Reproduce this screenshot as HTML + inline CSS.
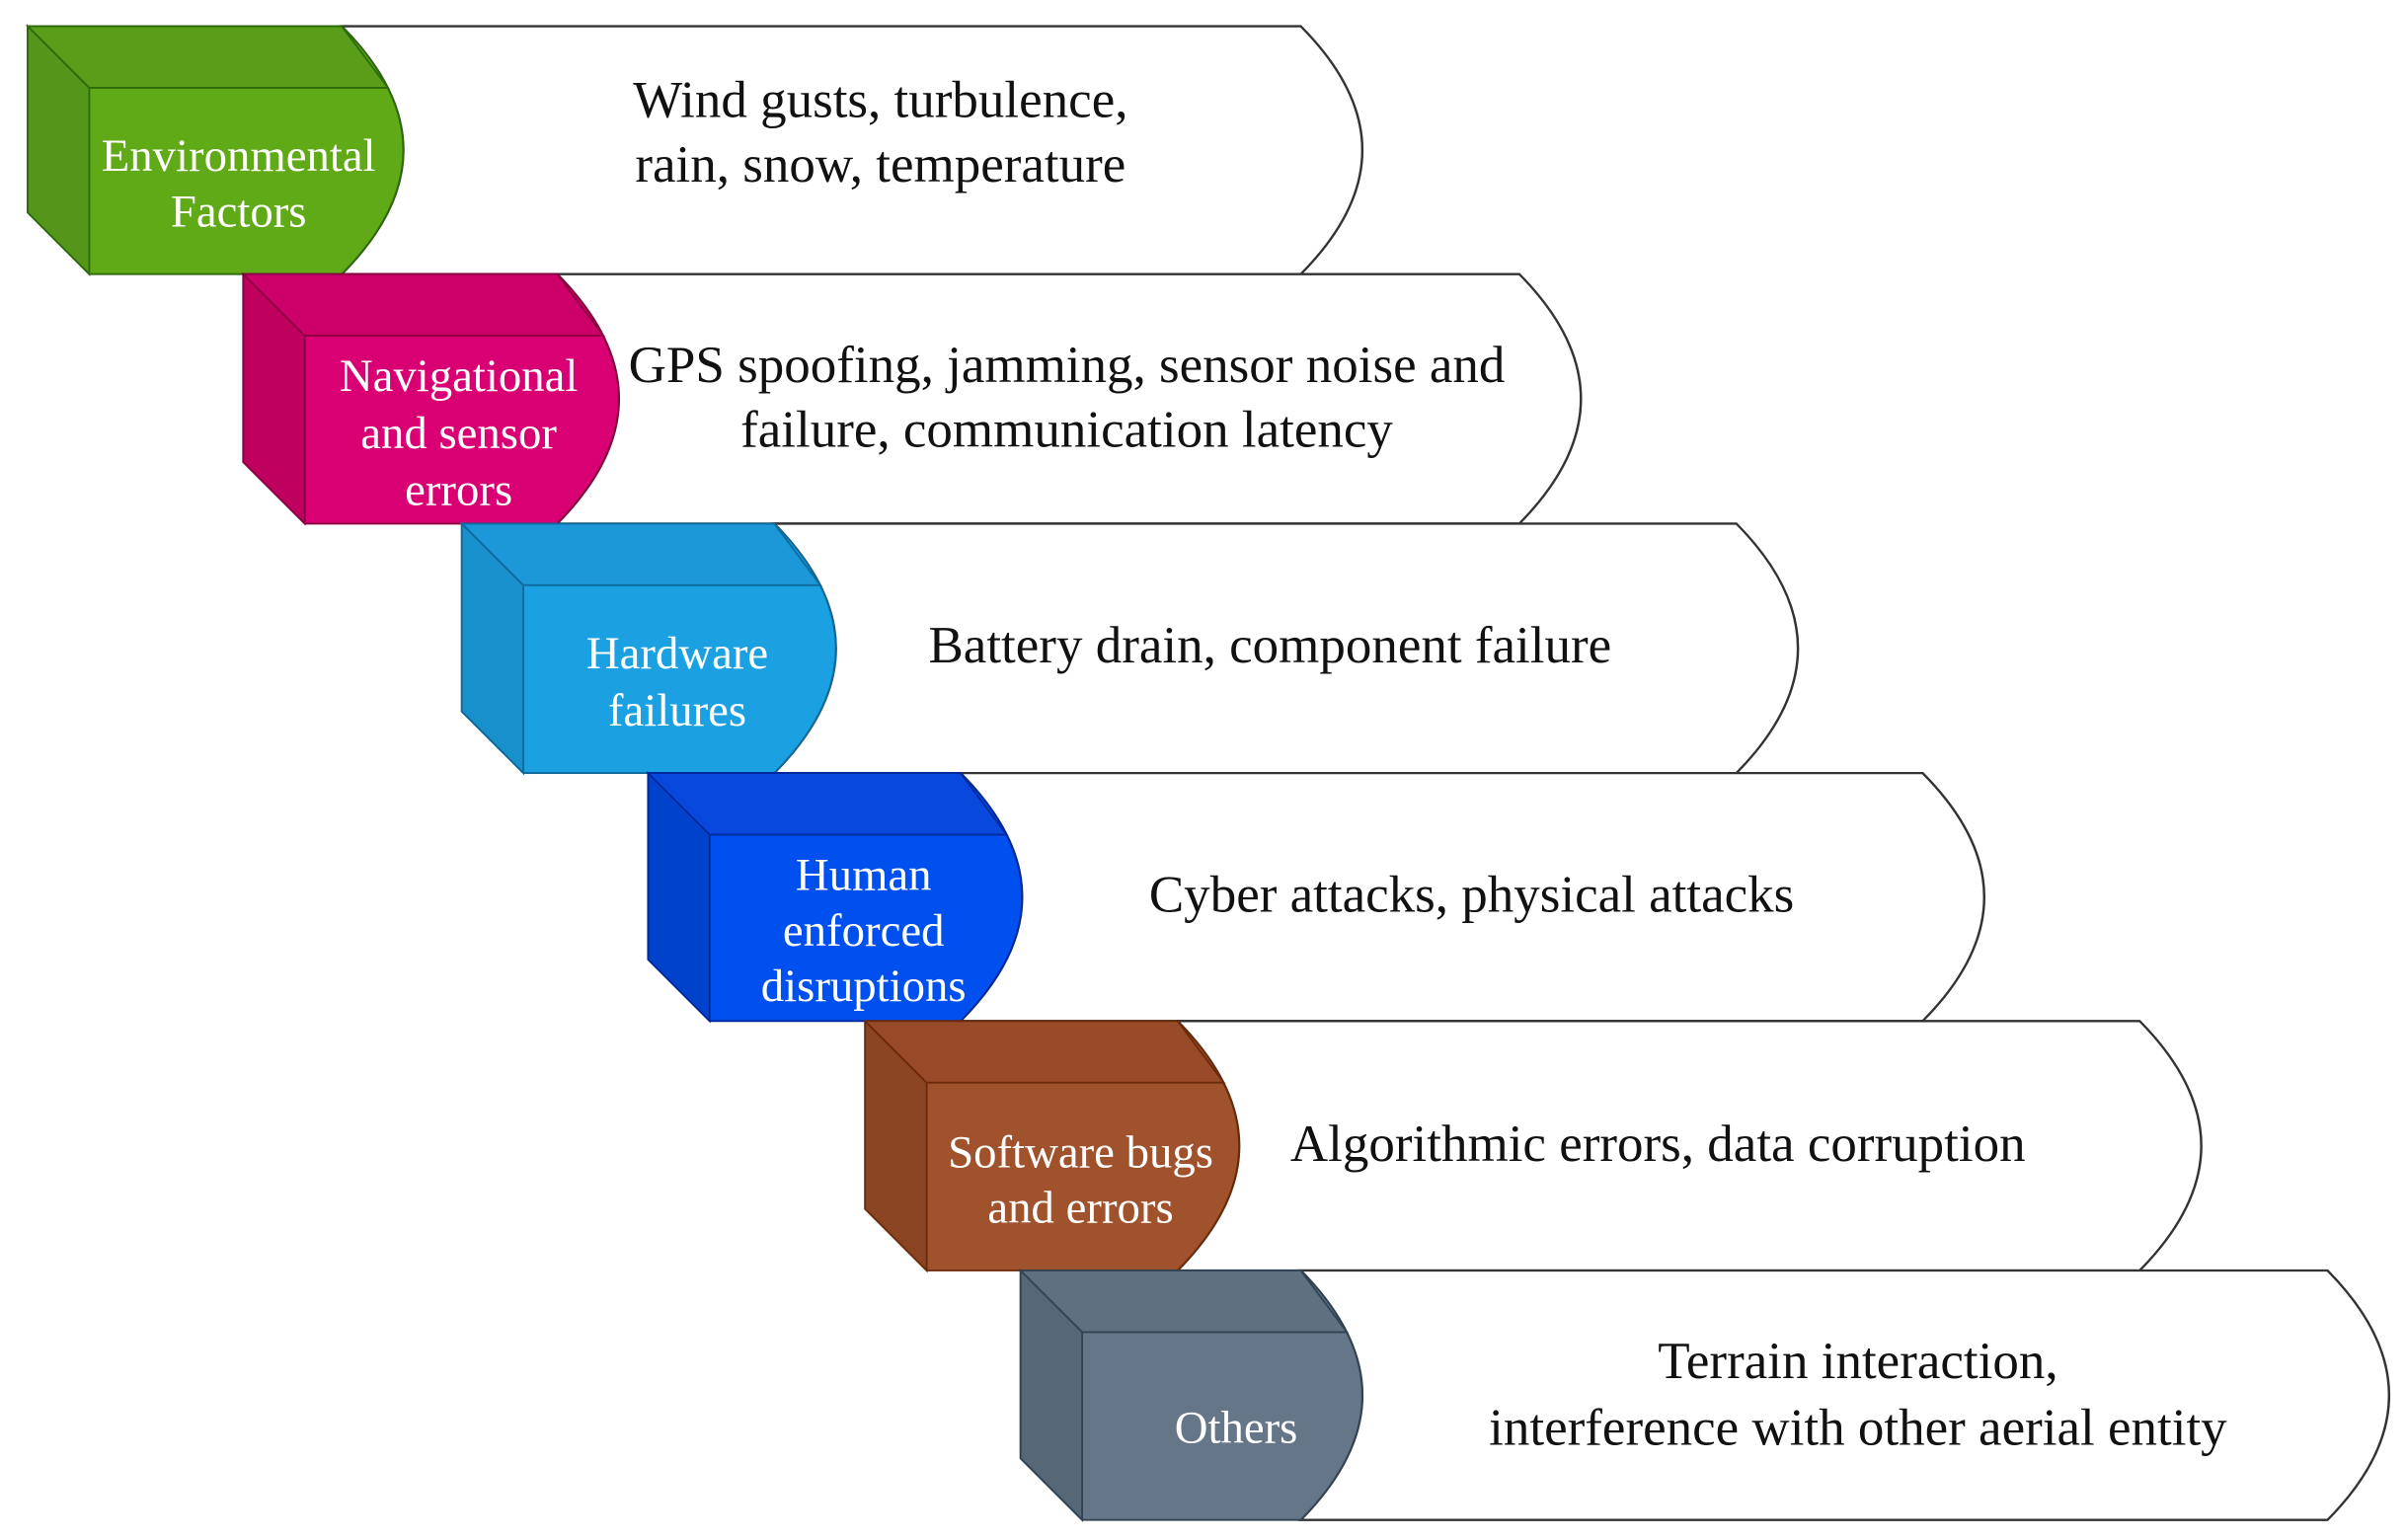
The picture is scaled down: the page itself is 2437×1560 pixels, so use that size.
<!DOCTYPE html>
<html><head><meta charset="utf-8"><style>
html,body{margin:0;padding:0;background:#fff;}
svg{display:block;}
text{font-family:"Liberation Serif",serif;text-anchor:middle;}
.d{font-size:34px;fill:#111;}
.l{font-size:30px;fill:#fff;}
</style></head><body>
<svg width="2437" height="1560" viewBox="0 0 1563 1000" preserveAspectRatio="none">
<g>
<path d="M222,17 L845,17 Q925,97.5 845,178 L222,178 Q302,97.5 222,17 Z" fill="#fff" stroke="#333" stroke-width="1.5"/>
<path d="M18,17 L222,17 Q302,97.5 222,178 L58,178 L18,138 Z" fill="#60a917" stroke="#2d6b0a" stroke-width="1.2"/>
<polygon points="18,17 58,57 58,178 18,138" fill="#54961a" stroke="#2d6b0a" stroke-width="1.2"/>
<polygon points="18,17 222,17 252,57 58,57" fill="#5a9d18" stroke="#2d6b0a" stroke-width="1.2"/>
<text class="l" x="155" y="111">Environmental</text>
<text class="l" x="155" y="147">Factors</text>
<text class="d" x="572" y="76">Wind gusts, turbulence,</text>
<text class="d" x="572" y="118">rain, snow, temperature</text>
</g>
<g>
<path d="M362,178 L987,178 Q1067,259 987,340 L362,340 Q442,259 362,178 Z" fill="#fff" stroke="#333" stroke-width="1.5"/>
<path d="M158,178 L362,178 Q442,259 362,340 L198,340 L158,300 Z" fill="#d80073" stroke="#8a0040" stroke-width="1.2"/>
<polygon points="158,178 198,218 198,340 158,300" fill="#c0005f" stroke="#8a0040" stroke-width="1.2"/>
<polygon points="158,178 362,178 392,218 198,218" fill="#cc0068" stroke="#8a0040" stroke-width="1.2"/>
<text class="l" x="298" y="254">Navigational</text>
<text class="l" x="298" y="291">and sensor</text>
<text class="l" x="298" y="328">errors</text>
<text class="d" x="693" y="248">GPS spoofing, jamming, sensor noise and</text>
<text class="d" x="693" y="290">failure, communication latency</text>
</g>
<g>
<path d="M503,340 L1128,340 Q1208,421 1128,502 L503,502 Q583,421 503,340 Z" fill="#fff" stroke="#333" stroke-width="1.5"/>
<path d="M300,340 L503,340 Q583,421 503,502 L340,502 L300,462 Z" fill="#1ba1e2" stroke="#0e6a9c" stroke-width="1.2"/>
<polygon points="300,340 340,380 340,502 300,462" fill="#1890cc" stroke="#0e6a9c" stroke-width="1.2"/>
<polygon points="300,340 503,340 533,380 340,380" fill="#1c98d8" stroke="#0e6a9c" stroke-width="1.2"/>
<text class="l" x="440" y="434">Hardware</text>
<text class="l" x="440" y="471">failures</text>
<text class="d" x="825" y="430">Battery drain, component failure</text>
</g>
<g>
<path d="M624,502 L1249,502 Q1329,582.5 1249,663 L624,663 Q704,582.5 624,502 Z" fill="#fff" stroke="#333" stroke-width="1.5"/>
<path d="M421,502 L624,502 Q704,582.5 624,663 L461,663 L421,623 Z" fill="#0050ef" stroke="#002a9c" stroke-width="1.2"/>
<polygon points="421,502 461,542 461,663 421,623" fill="#0042cc" stroke="#002a9c" stroke-width="1.2"/>
<polygon points="421,502 624,502 654,542 461,542" fill="#0848dc" stroke="#002a9c" stroke-width="1.2"/>
<text class="l" x="561" y="578">Human</text>
<text class="l" x="561" y="614">enforced</text>
<text class="l" x="561" y="650">disruptions</text>
<text class="d" x="956" y="592">Cyber attacks, physical attacks</text>
</g>
<g>
<path d="M765,663 L1390,663 Q1470,744 1390,825 L765,825 Q845,744 765,663 Z" fill="#fff" stroke="#333" stroke-width="1.5"/>
<path d="M562,663 L765,663 Q845,744 765,825 L602,825 L562,785 Z" fill="#a0522d" stroke="#6b2a0a" stroke-width="1.2"/>
<polygon points="562,663 602,703 602,825 562,785" fill="#8c4522" stroke="#6b2a0a" stroke-width="1.2"/>
<polygon points="562,663 765,663 795,703 602,703" fill="#994b29" stroke="#6b2a0a" stroke-width="1.2"/>
<text class="l" x="702" y="758">Software bugs</text>
<text class="l" x="702" y="794">and errors</text>
<text class="d" x="1077" y="754">Algorithmic errors, data corruption</text>
</g>
<g>
<path d="M845,825 L1512,825 Q1592,906 1512,987 L845,987 Q925,906 845,825 Z" fill="#fff" stroke="#333" stroke-width="1.5"/>
<path d="M663,825 L845,825 Q925,906 845,987 L703,987 L663,947 Z" fill="#647687" stroke="#314354" stroke-width="1.2"/>
<polygon points="663,825 703,865 703,987 663,947" fill="#566778" stroke="#314354" stroke-width="1.2"/>
<polygon points="663,825 845,825 875,865 703,865" fill="#5f7081" stroke="#314354" stroke-width="1.2"/>
<text class="l" x="803" y="937">Others</text>
<text class="d" x="1207" y="895">Terrain interaction,</text>
<text class="d" x="1207" y="938">interference with other aerial entity</text>
</g>
</svg>
</body></html>
